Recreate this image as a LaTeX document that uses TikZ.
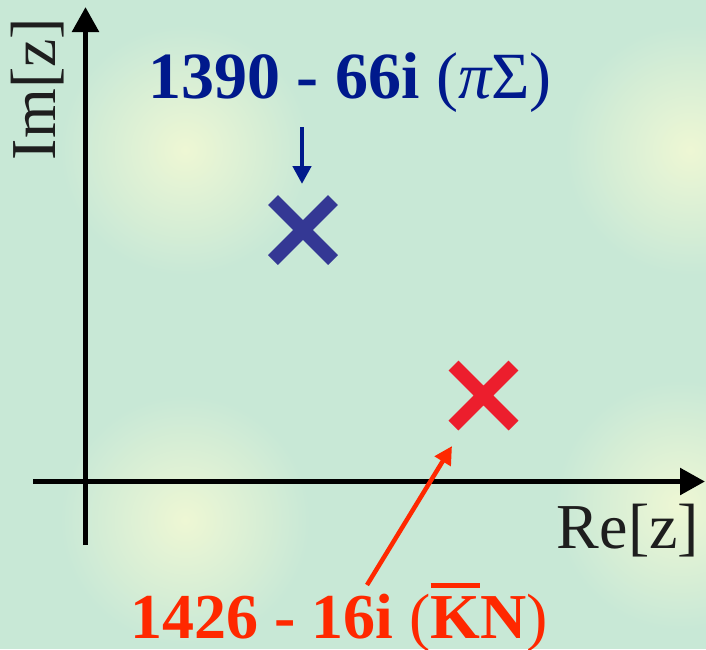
\documentclass[tikz,border=0pt]{standalone}
\usepackage{fontspec}
\setmainfont{Liberation Serif}
\usepackage{tikz}
\usetikzlibrary{positioning, calc, arrows.meta, shapes.misc}
\definecolor{bgmint}{RGB}{200,232,214}
\definecolor{glow}{RGB}{238,247,212}
\definecolor{axisgray}{RGB}{30,30,30}
\definecolor{polenavy}{RGB}{0,25,140}
\definecolor{polex}{RGB}{52,56,148}
\definecolor{polered}{RGB}{255,40,0}
\definecolor{crossred}{RGB}{236,30,45}
\newcommand\kbar{\setbox0\hbox{K}\rlap{\raisebox{0.78em}{\rule{\wd0}{0.075em}}}K}

\begin{document}
\begin{tikzpicture}[x=1pt, y=-1pt,
    every node/.style={inner sep=0pt},
    bigfont/.style={font=\fontsize{64}{70}\selectfont},
    axis/.style={line width=5.5pt, draw=black, -{Triangle[length=25pt,width=26pt]}},
    pole/.style={cross out, draw, line width=14pt, minimum size=46pt},
    pointer/.style={line width=4.5pt, -{Triangle[length=18pt,width=18pt]}}]
  \useasboundingbox (0,0) rectangle (706,649);
  % background
  \begin{scope}
    \clip (0,0) rectangle (706,649);
    \fill[bgmint] (0,0) rectangle (706,649);
    \foreach \gx/\gy in {185/150, 690/150, 185/520, 680/505}
      \shade[inner color=glow, outer color=bgmint] (\gx,\gy) circle (125);
  \end{scope}

  % axes
  \coordinate (ylow) at (85.5,545);
  \coordinate (ytop) at (85.5,7);
  \coordinate (xlow) at (33,481.5);
  \coordinate (xtop) at (705,481.5);
  \draw[axis] (ylow) -- (ytop);
  \draw[axis] (xlow) -- (xtop);
  \node[bigfont, text=axisgray, anchor=base, rotate=90] (imlbl) at (55,89) {Im[z]};
  \node[bigfont, text=axisgray, anchor=base] (relbl) at (628,548) {Re[z]};

  % poles
  \node[pole, draw=polex] (pisig) at (303,230) {};
  \node[pole, draw=crossred] (kn) at (483.5,395.5) {};

  \node[text=polenavy, anchor=base, font=\fontsize{66}{72}\selectfont\bfseries]
    (pislbl) at (350,98) {1390 - 66i {\mdseries(\itshape π\upshape Σ)}};
  \node[text=polered, anchor=base, font=\fontsize{64}{70}\selectfont\bfseries]
    (knlbl) at (339,638) {1426 - 16i {\mdseries(}\kbar N{\mdseries)}};

  \coordinate (pistart) at (302,127);
  \coordinate (pitip) at (302,184);
  \coordinate (knstart) at (367,585);
  \coordinate (kntip) at (452,446);
  \draw[pointer, polenavy] (pistart) -- (pitip);
  \draw[pointer, polered] (knstart) -- (kntip);
\end{tikzpicture}
\end{document}
